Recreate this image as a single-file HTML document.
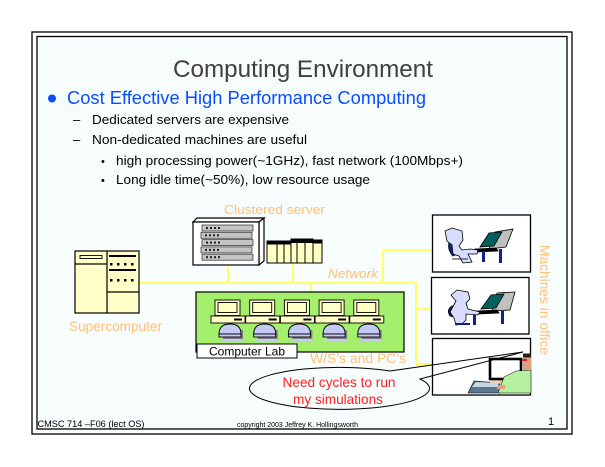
<!DOCTYPE html>
<html><head><meta charset="utf-8"><style>
html,body{margin:0;padding:0;background:#fff;}
svg{display:block;}
text{font-family:"Liberation Sans",Arial,sans-serif;}
</style></head><body>
<svg width="605" height="467" viewBox="0 0 605 467" xmlns="http://www.w3.org/2000/svg">
<rect x="0" y="0" width="605" height="467" fill="#fff"/>
<!-- slide frame -->
<rect x="32" y="32" width="540" height="402" fill="#fff" stroke="#000" stroke-width="1.3"/>
<rect x="37" y="36.5" width="530" height="392.5" fill="#f7fcfd" stroke="#000" stroke-width="1.3"/>

<!-- title & bullets -->
<text x="173" y="77" font-size="24" fill="#404040" textLength="260" lengthAdjust="spacingAndGlyphs">Computing Environment</text>
<circle cx="52" cy="98.5" r="4" fill="#0a4cff"/>
<text x="67" y="104" font-size="18" fill="#0a4cff" textLength="359" lengthAdjust="spacingAndGlyphs">Cost Effective High Performance Computing</text>
<text x="73" y="124" font-size="13" fill="#000">–</text>
<text x="92" y="124" font-size="13" fill="#000" textLength="197" lengthAdjust="spacingAndGlyphs">Dedicated servers are expensive</text>
<text x="73" y="144" font-size="13" fill="#000">–</text>
<text x="92" y="144" font-size="13" fill="#000" textLength="215" lengthAdjust="spacingAndGlyphs">Non-dedicated machines are useful</text>
<text x="101" y="165" font-size="11" fill="#000">•</text>
<text x="116" y="165" font-size="13" fill="#000" textLength="347" lengthAdjust="spacingAndGlyphs">high processing power(~1GHz), fast network (100Mbps+)</text>
<text x="101" y="184" font-size="11" fill="#000">•</text>
<text x="116" y="184" font-size="13" fill="#000" textLength="254" lengthAdjust="spacingAndGlyphs">Long idle time(~50%), low resource usage</text>

<!-- network lines -->
<g stroke="#ffff66" stroke-width="2" fill="none">
<line x1="139" y1="283" x2="417" y2="283"/>
<line x1="228" y1="265" x2="228" y2="283"/>
<line x1="293" y1="263" x2="293" y2="283"/>
<line x1="311" y1="283" x2="311" y2="292"/>
<line x1="383" y1="250" x2="383" y2="283"/>
<line x1="383" y1="250" x2="432" y2="250"/>
<line x1="416" y1="283" x2="416" y2="364"/>
<line x1="416" y1="309" x2="431" y2="309"/>
<line x1="416" y1="364" x2="432" y2="364"/>
</g>

<!-- labels -->
<text x="224" y="214" font-size="13" fill="#ffc078" textLength="101" lengthAdjust="spacingAndGlyphs">Clustered server</text>
<text x="69" y="331" font-size="14" fill="#ffc078" textLength="93" lengthAdjust="spacingAndGlyphs">Supercomputer</text>
<text x="328" y="278" font-size="13" font-style="italic" fill="#ffc078" textLength="50" lengthAdjust="spacingAndGlyphs">Network</text>
<text x="310" y="363" font-size="14" fill="#ffc078" textLength="96" lengthAdjust="spacingAndGlyphs">W/S's and PC's</text>
<text transform="translate(540,245) rotate(90)" font-size="14" fill="#ffc078" textLength="110" lengthAdjust="spacingAndGlyphs">Machines in office</text>

<!-- supercomputer -->
<g stroke="#000" stroke-width="1.2" fill="#ffffc8">
<rect x="75" y="251" width="64" height="62"/>
<line x1="107" y1="251" x2="107" y2="313"/>
<line x1="75" y1="264" x2="107" y2="264"/>
<line x1="107" y1="292" x2="139" y2="292"/>
<rect x="80" y="255.5" width="22" height="3" stroke-width="0.9"/>
</g>
<g fill="#000">
<rect x="109" y="255" width="27" height="2"/>
<rect x="110" y="263" width="2.5" height="2.5"/><rect x="117" y="263" width="2.5" height="2.5"/><rect x="124" y="263" width="2.5" height="2.5"/><rect x="131" y="263" width="2.5" height="2.5"/>
<rect x="109" y="269" width="27" height="2"/>
<rect x="110" y="279" width="2.5" height="2.5"/><rect x="117" y="279" width="2.5" height="2.5"/><rect x="124" y="279" width="2.5" height="2.5"/><rect x="131" y="279" width="2.5" height="2.5"/>
</g>

<!-- clustered server box -->
<g stroke="#000" stroke-width="1.2">
<polygon points="193,222 197,218 264,218 259,222" fill="#fff"/>
<polygon points="259,222 264,218 264,261 259,265" fill="#fff"/>
<rect x="193" y="222" width="66" height="43" fill="#fff"/>
</g>
<g stroke="#404040" stroke-width="0.8" fill="#c4c4c4">
<rect x="202" y="225" width="51" height="6"/>
<rect x="201" y="232.3" width="51" height="6"/>
<rect x="202" y="239.6" width="51" height="6"/>
<rect x="201" y="246.9" width="51" height="6"/>
<rect x="202" y="254.2" width="51" height="6"/>
</g>
<g fill="#202020">
<rect x="206" y="227" width="2" height="2"/><rect x="210" y="227" width="2" height="2"/><rect x="214" y="227" width="2" height="2"/><rect x="218" y="227" width="2" height="2"/>
<rect x="205" y="234.3" width="2" height="2"/><rect x="209" y="234.3" width="2" height="2"/><rect x="213" y="234.3" width="2" height="2"/><rect x="217" y="234.3" width="2" height="2"/>
<rect x="206" y="241.6" width="2" height="2"/><rect x="210" y="241.6" width="2" height="2"/><rect x="214" y="241.6" width="2" height="2"/><rect x="218" y="241.6" width="2" height="2"/>
<rect x="205" y="248.9" width="2" height="2"/><rect x="209" y="248.9" width="2" height="2"/><rect x="213" y="248.9" width="2" height="2"/><rect x="217" y="248.9" width="2" height="2"/>
<rect x="206" y="256.2" width="2" height="2"/><rect x="210" y="256.2" width="2" height="2"/><rect x="214" y="256.2" width="2" height="2"/><rect x="218" y="256.2" width="2" height="2"/>
</g>

<!-- racks -->
<g stroke="#000" stroke-width="1" fill="#ffffc4">
<rect x="267" y="241" width="24" height="22"/>
<rect x="291" y="239" width="22" height="24"/>
<rect x="313" y="240" width="9" height="23"/>
<line x1="277" y1="241" x2="277" y2="263"/>
<line x1="284" y1="241" x2="284" y2="263"/>
<line x1="297" y1="239" x2="297" y2="263"/>
<line x1="305" y1="241" x2="305" y2="263"/>
</g>
<g fill="#000">
<rect x="267" y="241" width="24" height="3.5"/>
<rect x="291" y="239" width="22" height="4"/>
<rect x="313" y="240" width="9" height="3.5"/>
</g>

<!-- computer lab -->
<rect x="196" y="292" width="208" height="60" fill="#a4f06c" stroke="#000" stroke-width="1.2"/>
<g id="pc">
</g>
<g stroke="#000" stroke-width="0.9">
<!-- 5 workstations -->
<g transform="translate(211,0)">
<rect x="4" y="300" width="25" height="15.5" fill="#ffffc4"/><rect x="7" y="302.5" width="19" height="10" fill="#ffffc4"/>
<rect x="0" y="316" width="34" height="7" fill="#ffffc4"/><rect x="23" y="318.5" width="8" height="2" fill="#000" stroke="none"/>
<path d="M12,330 h20 v10 h-20z" fill="#808080" stroke="none"/>
<path d="M8,334 q0,-10 11,-10 q11,0 11,10 z" fill="#c4caf4"/>
<rect x="8" y="334" width="22" height="3" fill="#c4caf4"/>
<rect x="10" y="339" width="22" height="2" fill="#c4caf4" stroke="none"/>
</g>
<g transform="translate(245.7,0)">
<rect x="4" y="300" width="25" height="15.5" fill="#ffffc4"/><rect x="7" y="302.5" width="19" height="10" fill="#ffffc4"/>
<rect x="0" y="316" width="34" height="7" fill="#ffffc4"/><rect x="23" y="318.5" width="8" height="2" fill="#000" stroke="none"/>
<path d="M12,330 h20 v10 h-20z" fill="#808080" stroke="none"/>
<path d="M8,334 q0,-10 11,-10 q11,0 11,10 z" fill="#c4caf4"/>
<rect x="8" y="334" width="22" height="3" fill="#c4caf4"/>
<rect x="10" y="339" width="22" height="2" fill="#c4caf4" stroke="none"/>
</g>
<g transform="translate(280.4,0)">
<rect x="4" y="300" width="25" height="15.5" fill="#ffffc4"/><rect x="7" y="302.5" width="19" height="10" fill="#ffffc4"/>
<rect x="0" y="316" width="34" height="7" fill="#ffffc4"/><rect x="23" y="318.5" width="8" height="2" fill="#000" stroke="none"/>
<path d="M12,330 h20 v10 h-20z" fill="#808080" stroke="none"/>
<path d="M8,334 q0,-10 11,-10 q11,0 11,10 z" fill="#c4caf4"/>
<rect x="8" y="334" width="22" height="3" fill="#c4caf4"/>
<rect x="10" y="339" width="22" height="2" fill="#c4caf4" stroke="none"/>
</g>
<g transform="translate(315.1,0)">
<rect x="4" y="300" width="25" height="15.5" fill="#ffffc4"/><rect x="7" y="302.5" width="19" height="10" fill="#ffffc4"/>
<rect x="0" y="316" width="34" height="7" fill="#ffffc4"/><rect x="23" y="318.5" width="8" height="2" fill="#000" stroke="none"/>
<path d="M12,330 h20 v10 h-20z" fill="#808080" stroke="none"/>
<path d="M8,334 q0,-10 11,-10 q11,0 11,10 z" fill="#c4caf4"/>
<rect x="8" y="334" width="22" height="3" fill="#c4caf4"/>
<rect x="10" y="339" width="22" height="2" fill="#c4caf4" stroke="none"/>
</g>
<g transform="translate(349.8,0)">
<rect x="4" y="300" width="25" height="15.5" fill="#ffffc4"/><rect x="7" y="302.5" width="19" height="10" fill="#ffffc4"/>
<rect x="0" y="316" width="34" height="7" fill="#ffffc4"/><rect x="23" y="318.5" width="8" height="2" fill="#000" stroke="none"/>
<path d="M12,330 h20 v10 h-20z" fill="#808080" stroke="none"/>
<path d="M8,334 q0,-10 11,-10 q11,0 11,10 z" fill="#c4caf4"/>
<rect x="8" y="334" width="22" height="3" fill="#c4caf4"/>
<rect x="10" y="339" width="22" height="2" fill="#c4caf4" stroke="none"/>
</g>
</g>
<rect x="197" y="344" width="100" height="14" fill="#fff" stroke="#000" stroke-width="1"/>
<text x="209" y="355.5" font-size="12" fill="#000" textLength="76" lengthAdjust="spacingAndGlyphs">Computer Lab</text>

<!-- office boxes -->
<rect x="432.5" y="215" width="98" height="57" fill="#fff" stroke="#000" stroke-width="1.3"/>
<rect x="431.5" y="277.5" width="97.5" height="56.5" fill="#fff" stroke="#000" stroke-width="1.3"/>
<rect x="432.5" y="338.5" width="98" height="56.5" fill="#fff" stroke="#000" stroke-width="1.3"/>

<!-- box1 figure: reclined person -->
<g stroke="#000" stroke-width="0.8">
<polygon points="495,232 513,229 506,247 489,249" fill="#c0c0c0"/>
<polygon points="480,247 489,233 502,232 494,246" fill="#006060"/>
<polygon points="475,249 496,248 498,251 477,252" fill="#000"/>
<rect x="499" y="249" width="3" height="14" fill="#10208c" stroke="none"/>
<rect x="482" y="251" width="3" height="11" fill="#10208c" stroke="none"/>
<path d="M450,239 q-4,10 3,17 l4,-2 q-5,-7 -2,-14z" fill="#10208c"/>
<polygon points="445,231 452,228 462,231 463,240 459,246 462,250 470,249 478,250 477,254 468,254 472,262 463,263 459,256 453,254 452,245 447,241" fill="#d8dcff"/>
<line x1="452" y1="259" x2="468" y2="259" stroke="#000"/>
</g>
<!-- box2 figure: upright person -->
<g stroke="#000" stroke-width="0.8">
<polygon points="497,293 515,292 510,310 492,311" fill="#c0c0c0"/>
<polygon points="481,309 491,295 504,294 496,308" fill="#006060"/>
<polygon points="477,311 497,310 499,313 479,314" fill="#000"/>
<rect x="501" y="311" width="3" height="13" fill="#10208c" stroke="none"/>
<rect x="473" y="313" width="3" height="12" fill="#10208c" stroke="none"/>
<path d="M452,306 q-6,4 -2,10 l8,2 v-10z" fill="#10208c"/>
<polygon points="451,295 457,290 468,292 470,299 466,303 468,309 480,312 478,315 466,314 466,320 462,324 456,325 454,318 450,312 456,301" fill="#d8dcff"/>
<line x1="455" y1="324" x2="470" y2="324" stroke="#10208c" stroke-width="2"/>
</g>
<!-- box3 figure: man at computer -->
<g>
<polygon points="468,393 500,393 500,383 474,381" fill="#5a7890" stroke="#000" stroke-width="0.6"/>
<polygon points="472,387 498,387 498,383 476,382" fill="#c8d8e0"/>
<rect x="490" y="379.5" width="32" height="4" fill="#e8d4b4"/>
<rect x="490" y="359" width="31" height="20" fill="#fff" stroke="#000" stroke-width="2.6"/>
<polygon points="498,393 504,377 516,371 531,370 531,393" fill="#b4f0a0" stroke="#000" stroke-width="0.5"/>
<rect x="523" y="356" width="8" height="14" fill="#e0a080"/>
<rect x="523" y="353.5" width="8" height="4" fill="#202020"/>
<rect x="522" y="359" width="5" height="2" fill="#d02020"/>
<rect x="497" y="385" width="8" height="4" fill="#e0a080"/>
</g>

<!-- callout -->
<path d="M390,371 L523,352 L420,379 A90,21 0 1,1 390,371" fill="none" stroke="#000" stroke-width="1"/>
<text x="339" y="387" font-size="14" fill="#ff2020" text-anchor="middle" textLength="113" lengthAdjust="spacingAndGlyphs">Need cycles to run</text>
<text x="338" y="404" font-size="14" fill="#ff2020" text-anchor="middle" textLength="90" lengthAdjust="spacingAndGlyphs">my simulations</text>

<!-- footer -->
<text x="37.5" y="427" font-size="9" fill="#000" textLength="107" lengthAdjust="spacingAndGlyphs">CMSC 714 –F06 (lect OS)</text>
<text x="237" y="427" font-size="7" fill="#000" textLength="121" lengthAdjust="spacingAndGlyphs">copyright 2003 Jeffrey K. Hollingsworth</text>
<text x="548" y="425" font-size="11" fill="#000">1</text>
</svg>
</body></html>
